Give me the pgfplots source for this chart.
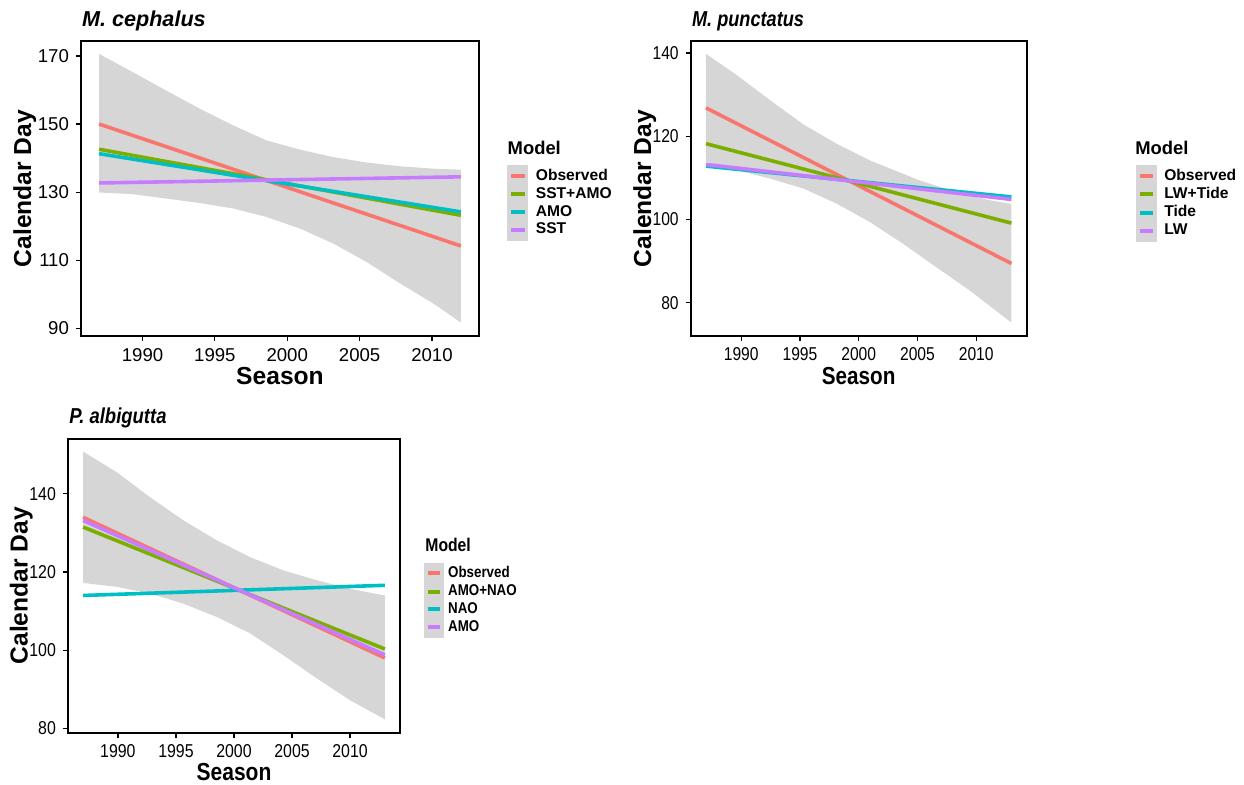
\documentclass[border=0pt]{standalone}
\usepackage{fontspec}
\setmainfont{Liberation Sans}
\newfontfamily\narrowA[FakeStretch=0.84]{Liberation Sans}
\newfontfamily\narrowB[FakeStretch=0.855]{Liberation Sans}
\usepackage{pgfplots}
\pgfplotsset{compat=1.18}
\definecolor{cObs}{HTML}{F8766D}
\definecolor{cGreen}{HTML}{7CAE00}
\definecolor{cCyan}{HTML}{00BFC4}
\definecolor{cPurple}{HTML}{C77CFF}
\definecolor{ribbongray}{RGB}{214,214,214}
\pgfplotsset{
  panel/.style={
    scale only axis, anchor=south west,
    axis line style={line width=1.15pt, black},
    tick align=outside, tick pos=left,
    major tick length=2.5pt,
    tick style={line width=0.6pt, black},
    minor tick num=0,
    /pgf/number format/assume math mode=true,
    /pgf/number format/1000 sep={},
    tick label style={font=#1\fontsize{9.3}{11}\selectfont, black},
    xtick={1990,1995,2000,2005,2010},
    xmin=1985.7, xmax=2014.3,
    xlabel={Season}, ylabel={Calendar Day},
    xlabel style={font=#1\bfseries\fontsize{12.3}{14}\selectfont},
    ylabel style={font=\normalfont\bfseries\fontsize{12.3}{14}\selectfont},
    clip=false,
    legend cell align=left,
    legend style={draw=none, fill=none, inner sep=0pt, outer sep=0pt,
      row sep=-2pt, column sep=1.7pt, anchor=north west},
    legend image code/.code={
      \fill[ribbongray] (0pt,-4.5pt) rectangle (8.8pt,4.5pt);
      \draw[line width=2pt] (1pt,0pt) -- (7.8pt,0pt);
    },
  },
  panel/.default={},
  ln/.style={line width=1.8pt, #1},
}
\begin{document}
\begin{tikzpicture}
\useasboundingbox (0pt,0pt) rectangle (622pt,-392.5pt);
% ---------- Panel 1: M. cephalus ----------
\begin{axis}[panel={}, at={(40.5pt,-168pt)}, width=199pt, height=147.5pt,
  xmin=1985.75, xmax=2013.25, ymin=87.75, ymax=174.4,
  ytick={90,110,130,150,170},
  xlabel style={at={(axis description cs:0.5,-0.166)}, anchor=base},
  ylabel style={at={(axis description cs:-0.1256,0.5)}, anchor=base},
  legend style={at={(axis description cs:1.0711,0.5797)}, font=\bfseries\fontsize{7.8}{9}\selectfont}]
\addplot[fill=ribbongray, draw=none, forget plot] coordinates {
 (1987,170.6) (1989.35,165.2) (1991.66,159.8) (1993.96,154.5) (1996.27,149.6) (1998.57,145.2)
 (2000.88,142.5) (2003.18,140.3) (2005.48,138.7) (2007.79,137.6) (2010.09,136.9) (2012,136.6)
 (2012,91.7) (2010.09,97.3) (2007.79,103.2) (2005.48,109.5) (2003.18,114.9) (2000.88,119.3)
 (1998.57,122.7) (1996.27,125.2) (1993.96,126.8) (1991.66,128.1) (1989.35,129.4) (1987,129.9)};
\addplot[ln=cObs] coordinates {(1987,150.0) (2012,114.2)};
\addlegendentry{Observed}
\addplot[ln=cGreen] coordinates {(1987,142.6) (2012,123.2)};
\addlegendentry{SST+AMO}
\addplot[ln=cCyan] coordinates {(1987,141.3) (2012,124.2)};
\addlegendentry{AMO}
\addplot[ln=cPurple] coordinates {(1987,132.7) (2012,134.5)};
\addlegendentry{SST}
\end{axis}
% ---------- Panel 2: M. punctatus ----------
\begin{axis}[panel={\narrowA}, at={(345.35pt,-167.85pt)}, width=168pt, height=147.2pt,
  ymin=72.05, ymax=142.8,
  ytick={80,100,120,140},
  xlabel style={at={(axis description cs:0.5,-0.1658)}, anchor=base},
  ylabel style={at={(axis description cs:-0.118,0.5)}, anchor=base},
  legend style={at={(axis description cs:1.3244,0.5798)}, font=\bfseries\fontsize{7.8}{9}\selectfont}]
\addplot[fill=ribbongray, draw=none, forget plot] coordinates {
 (1987,139.8) (1989.66,134.6) (1992.48,128.6) (1995.30,122.8) (1998.11,118.2) (1999.52,116.2)
 (2000.93,114.2) (2002.34,112.6) (2003.75,111.0) (2005.15,109.4) (2007.97,106.85) (2010.79,104.8) (2013,103.7)
 (2013,75.2) (2009.38,83.05) (2006.56,88.6) (2003.75,94.2) (2000.93,99.4) (1998.11,103.8)
 (1995.30,107.4) (1992.48,109.8) (1989.66,111.8) (1987,113.8)};
\addplot[ln=cObs] coordinates {(1987,126.8) (2013,89.4)};
\addlegendentry{Observed}
\addplot[ln=cGreen] coordinates {(1987,118.2) (2013,99.1)};
\addlegendentry{LW+Tide}
\addplot[ln=cCyan] coordinates {(1987,112.8) (2013,105.4)};
\addlegendentry{Tide}
\addplot[ln=cPurple] coordinates {(1987,113.2) (2013,104.8)};
\addlegendentry{LW}
\end{axis}
% ---------- Panel 3: P. albigutta ----------
\begin{axis}[panel={\narrowB}, at={(34pt,-366.35pt)}, width=166pt, height=147pt,
  ymin=78.9, ymax=154.1,
  ytick={80,100,120,140},
  xlabel style={at={(axis description cs:0.5,-0.164)}, anchor=base},
  ylabel style={at={(axis description cs:-0.1214,0.5)}, anchor=base},
  legend style={at={(axis description cs:1.0723,0.5796)}, column sep=0.3pt, font=\narrowB\bfseries\fontsize{7.8}{9}\selectfont},
  legend image code/.code={
      \fill[ribbongray] (0pt,-4.5pt) rectangle (8pt,4.5pt);
      \draw[line width=2pt] (1pt,0pt) -- (7pt,0pt);
  }]
\addplot[fill=ribbongray, draw=none, forget plot] coordinates {
 (1987,150.8) (1989.91,145.5) (1992.78,139.1) (1995.65,133.2) (1998.52,128.1) (2001.39,123.8)
 (2004.26,120.4) (2007.13,117.9) (2010,115.7) (2013,114.0)
 (2013,82.3) (2010,87.2) (2007.13,92.8) (2004.26,98.7) (2001.39,104.3) (1998.52,108.5)
 (1995.65,111.9) (1992.78,114.5) (1989.91,116.2) (1987,117.2)};
\addplot[ln=cObs] coordinates {(1987,134.0) (2013,98.0)};
\addlegendentry{Observed}
\addplot[ln=cGreen] coordinates {(1987,131.5) (2013,100.3)};
\addlegendentry{AMO+NAO}
\addplot[ln=cCyan] coordinates {(1987,114.0) (2013,116.6)};
\addlegendentry{NAO}
\addplot[ln=cPurple] coordinates {(1987,133.2) (2013,98.8)};
\addlegendentry{AMO}
\end{axis}
% ---------- titles ----------
\node[anchor=base west, inner sep=0pt, font=\bfseries\itshape\fontsize{10.8}{12}\selectfont] at (40.85pt,-13.35pt) {M. cephalus};
\node[anchor=base west, inner sep=0pt, font=\narrowA\bfseries\itshape\fontsize{10.8}{12}\selectfont] at (345.85pt,-13.35pt) {M. punctatus};
\node[anchor=base west, inner sep=0pt, font=\narrowB\bfseries\itshape\fontsize{10.8}{12}\selectfont] at (34.5pt,-212pt) {P. albigutta};
\node[anchor=base west, inner sep=0pt, font=\bfseries\fontsize{9.2}{10}\selectfont] at (253.65pt,-77.5pt) {Model};
\node[anchor=base west, inner sep=0pt, font=\bfseries\fontsize{9.2}{10}\selectfont] at (567.5pt,-77.5pt) {Model};
\node[anchor=base west, inner sep=0pt, font=\narrowB\bfseries\fontsize{9.2}{10}\selectfont] at (212.5pt,-275.8pt) {Model};
\end{tikzpicture}
\end{document}
